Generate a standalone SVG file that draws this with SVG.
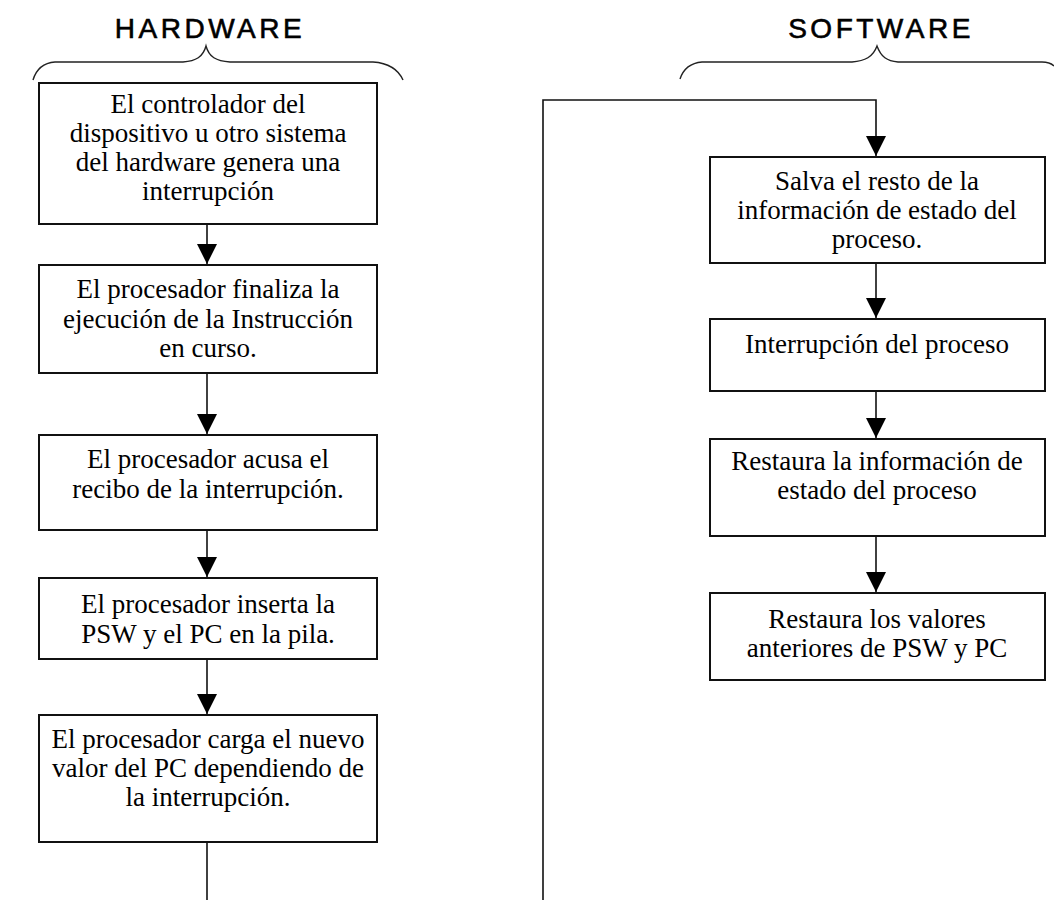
<svg xmlns="http://www.w3.org/2000/svg" width="1054" height="900" viewBox="0 0 1054 900">
<style>
.box{fill:#fff;stroke:#111;stroke-width:2}
.t{font-family:"Liberation Serif","Times New Roman",serif;font-size:27px;fill:#000;text-anchor:middle}
.h{font-family:"Liberation Sans",Arial,sans-serif;font-size:28px;fill:#000;stroke:#000;stroke-width:0.6;text-anchor:middle;letter-spacing:3.5px}
.c{fill:none;stroke:#111;stroke-width:1.6}
.br{fill:none;stroke:#222;stroke-width:1.4}
</style>
<defs>
<marker id="ah" viewBox="0 0 20 20" refX="20" refY="10" markerWidth="20" markerHeight="20" markerUnits="userSpaceOnUse" orient="auto">
<path d="M0,0 L20,10 L0,20 z" fill="#000"/>
</marker>
</defs>
<rect width="1054" height="900" fill="#fff"/>
<g id="headers">
<text class="h" x="210" y="38">HARDWARE</text>
<text class="h" x="881" y="38">SOFTWARE</text>
<path class="br" d="M33 80 C36 70 42 63 55 62 L183 62 C196 61 203 57 206 46 C209 57 216 61 230 62 L373 62 C388 63 398 69 403 80"/>
<path class="br" d="M680 79 C683 70 690 63 702 62 L852 62 C865 61 873 57 877 46 C881 57 887 61 898 62 L1042 62 C1047 62 1051 63 1054 66"/>
</g>
<g id="connectors">
<path class="c" d="M207 224 V264" marker-end="url(#ah)"/>
<path class="c" d="M207 373 V434" marker-end="url(#ah)"/>
<path class="c" d="M207 530 V577" marker-end="url(#ah)"/>
<path class="c" d="M207 659 V714" marker-end="url(#ah)"/>
<path class="c" d="M207 842 V900"/>
<path class="c" d="M543 900 V100 H876 V156" marker-end="url(#ah)"/>
<path class="c" d="M876 263 V318" marker-end="url(#ah)"/>
<path class="c" d="M876 391 V438" marker-end="url(#ah)"/>
<path class="c" d="M876 536 V592" marker-end="url(#ah)"/>
</g>
<g id="hw1">
<rect class="box" x="39" y="83" width="338" height="141"/>
<text class="t" x="208" y="113">El controlador del</text>
<text class="t" x="208" y="142">dispositivo u otro sistema</text>
<text class="t" x="208" y="171">del hardware genera una</text>
<text class="t" x="208" y="200">interrupción</text>
</g>
<g id="hw2">
<rect class="box" x="39" y="265" width="338" height="108"/>
<text class="t" x="208" y="298">El procesador finaliza la</text>
<text class="t" x="208" y="328">ejecución de la Instrucción</text>
<text class="t" x="208" y="357">en curso.</text>
</g>
<g id="hw3">
<rect class="box" x="39" y="435" width="338" height="95"/>
<text class="t" x="208" y="468">El procesador acusa el</text>
<text class="t" x="208" y="498">recibo de la interrupción.</text>
</g>
<g id="hw4">
<rect class="box" x="39" y="578" width="338" height="81"/>
<text class="t" x="208" y="613">El procesador inserta la</text>
<text class="t" x="208" y="643">PSW y el PC en la pila.</text>
</g>
<g id="hw5">
<rect class="box" x="39" y="715" width="338" height="127"/>
<text class="t" x="208" y="748">El procesador carga el nuevo</text>
<text class="t" x="208" y="777">valor del PC dependiendo de</text>
<text class="t" x="208" y="806">la interrupción.</text>
</g>
<g id="sw1">
<rect class="box" x="710" y="157" width="335" height="106"/>
<text class="t" x="877" y="190">Salva el resto de la</text>
<text class="t" x="877" y="219">información de estado del</text>
<text class="t" x="877" y="248">proceso.</text>
</g>
<g id="sw2">
<rect class="box" x="710" y="319" width="335" height="72"/>
<text class="t" x="877" y="353">Interrupción del proceso</text>
</g>
<g id="sw3">
<rect class="box" x="710" y="439" width="335" height="97"/>
<text class="t" x="877" y="470">Restaura la información de</text>
<text class="t" x="877" y="499">estado del proceso</text>
</g>
<g id="sw4">
<rect class="box" x="710" y="593" width="335" height="87"/>
<text class="t" x="877" y="628">Restaura los valores</text>
<text class="t" x="877" y="657">anteriores de PSW y PC</text>
</g>
</svg>
